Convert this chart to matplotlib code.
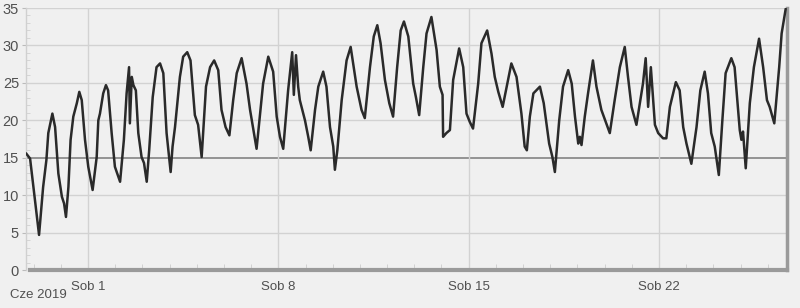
import matplotlib
matplotlib.use("Agg")
import matplotlib.pyplot as plt
import numpy as np

# time in days relative to Sat 1 June 2019 00:00, temperature in °C
days = [-2.28, -2.13, -1.80, -1.65, -1.53, -1.46, -1.31, -1.21, -1.09, -0.96, -0.88, -0.81,
        -0.72, -0.64, -0.54, -0.41, -0.32, -0.23, -0.11, 0.01, 0.17, 0.32, 0.38, 0.44, 0.56,
        0.66, 0.74, 0.87, 0.99, 1.18, 1.32, 1.42, 1.51, 1.54, 1.61, 1.67, 1.76, 1.85, 1.97,
        2.06, 2.16, 2.25, 2.38, 2.52, 2.65, 2.77, 2.89, 3.04, 3.11, 3.20, 3.38, 3.50, 3.65,
        3.77, 3.93, 4.05, 4.18, 4.34, 4.49, 4.64, 4.79, 4.91, 5.06, 5.20, 5.34, 5.47, 5.65,
        5.83, 5.96, 6.20, 6.44, 6.63, 6.81, 6.94, 7.06, 7.18, 7.36, 7.51, 7.57, 7.65, 7.73,
        7.79, 7.98, 8.10, 8.19, 8.35, 8.47, 8.65, 8.77, 8.90, 9.02, 9.08, 9.17, 9.33, 9.51,
        9.66, 9.88, 10.06, 10.18, 10.37, 10.51, 10.64, 10.76, 10.92, 11.08, 11.22, 11.37,
        11.50, 11.62, 11.78, 11.96, 12.06, 12.18, 12.33, 12.45, 12.63, 12.82, 12.94, 13.04,
        13.06, 13.18, 13.31, 13.43, 13.65, 13.80, 13.92, 14.04, 14.16, 14.35, 14.47, 14.68,
        14.84, 14.96, 15.09, 15.25, 15.40, 15.57, 15.76, 15.94, 16.06, 16.14, 16.25, 16.38,
        16.62, 16.76, 16.96, 17.08, 17.17, 17.33, 17.47, 17.66, 17.79, 17.91, 18.03, 18.09,
        18.15, 18.27, 18.39, 18.57, 18.70, 18.88, 19.19, 19.37, 19.56, 19.74, 19.86, 19.99,
        20.17, 20.41, 20.51, 20.60, 20.70, 20.78, 20.85, 20.97, 21.15, 21.27, 21.40, 21.62,
        21.76, 21.89, 22.01, 22.19, 22.38, 22.52, 22.68, 22.80, 22.92, 23.05, 23.20, 23.33,
        23.45, 23.66, 23.78, 23.97, 24.03, 24.09, 24.19, 24.34, 24.49, 24.68, 24.83, 24.97,
        25.07, 25.24, 25.42, 25.51, 25.66]
temps = [15.6, 14.9, 4.7, 11.1, 14.7, 18.3, 20.9, 19.1, 12.9, 9.8, 8.9, 7.1,
         11.1, 17.4, 20.5, 22.3, 23.8, 22.7, 17.4, 13.8, 10.7, 15.1, 20.0, 20.9, 23.6,
         24.7, 24.0, 18.3, 13.8, 11.8, 17.4, 23.6, 27.1, 19.6, 25.8, 24.7, 24.0, 18.3, 15.1,
         14.3, 11.8, 16.0, 23.1, 27.1, 27.6, 26.3, 18.3, 13.1, 16.5, 19.1, 25.8, 28.5, 29.1,
         28.0, 20.7, 19.4, 15.1, 24.5, 27.1, 28.0, 26.7, 21.4, 19.1, 18.0, 22.7, 26.3, 28.3,
         24.9, 21.4, 16.2, 24.9, 28.5, 26.5, 20.5, 17.8, 16.2, 24.0, 29.1, 23.4, 28.7, 24.5,
         22.7, 20.0, 17.8, 16.0, 21.4, 24.5, 26.5, 24.5, 19.1, 16.5, 13.4, 16.0, 22.7, 28.0,
         29.8, 24.5, 21.4, 20.3, 27.1, 31.2, 32.7, 30.3, 25.4, 22.3, 20.5, 27.1,
         32.0, 33.2, 31.2, 24.9, 23.1, 20.7, 27.1, 31.6, 33.8, 29.4, 24.5, 23.4,
         17.8, 18.3, 18.7, 25.4, 29.6, 27.1, 20.9, 19.8, 18.9, 24.9, 30.3, 32.0,
         28.9, 25.8, 23.8, 21.8, 24.5, 27.6, 25.8, 20.9, 16.5, 16.0, 20.5, 23.6,
         24.5, 22.3, 16.9, 15.1, 13.1, 20.0, 24.5, 26.7, 24.9, 20.5, 16.9, 17.8,
         16.7, 20.5, 23.6, 28.0, 24.5, 21.4, 18.3, 22.7, 27.1, 29.8, 25.8, 21.8,
         19.4, 24.9, 28.3, 21.8, 27.1, 23.1, 19.4, 18.3, 17.6, 17.6, 21.8, 25.1,
         24.0, 19.1, 16.9, 14.2, 19.1, 24.0, 26.5, 23.6, 18.3, 16.5, 12.7, 20.0,
         26.3, 28.3, 27.1, 18.7, 17.4, 18.5, 13.6, 22.3, 27.1, 30.9, 27.1, 22.7,
         21.8, 19.6, 27.1, 31.6, 34.9]

xtick_pos = [0, 7, 14, 21]
xtick_labels = ["Sob 1", "Sob 8", "Sob 15", "Sob 22"]
month_label = "Cze 2019"
yticks = [0, 5, 10, 15, 20, 25, 30, 35]

FAM = ['Liberation Sans', 'DejaVu Sans']
plt.rcParams['font.family'] = FAM

bg = "#f0f0f0"
fig = plt.figure(figsize=(8, 3.08), dpi=100, facecolor=bg)
ax = fig.add_axes([0.0325, 0.123, 0.951, 0.851], facecolor=bg)

ax.set_xlim(-2.28, 25.7)
ax.set_ylim(0, 35)

for y in yticks[1:]:
    if y == 15:
        ax.axhline(y, color="#8c8c8c", lw=1.3, zorder=1)
    else:
        ax.axhline(y, color="#d2d2d2", lw=1.0, zorder=1)
for x in xtick_pos:
    ax.axvline(x, color="#d2d2d2", lw=1.0, zorder=1)

ax.plot(days, temps, color="#2a2a2a", lw=1.8, zorder=3,
        solid_joinstyle="round", solid_capstyle="round")

ax.set_yticks(yticks)
ax.set_yticklabels([str(v) for v in yticks], fontsize=10.5, color="#505050", family=FAM)
ax.set_yticks(np.arange(0, 36, 1), minor=True)
ax.tick_params(axis="y", which="major", length=3, color="#bbbbbb", pad=2)
ax.tick_params(axis="y", which="minor", length=3, color="#d0d0d0", direction="in")

ax.set_xticks(xtick_pos)
ax.set_xticklabels(xtick_labels, fontsize=9.5, color="#505050", family=FAM)
ax.set_xticks(np.arange(-2, 26, 1), minor=True)
ax.tick_params(axis="x", which="major", length=0, pad=8)
ax.tick_params(axis="x", which="minor", length=4, color="#cccccc", direction="in")

ax.spines["top"].set_visible(False)
ax.spines["left"].set_color("#d0d0d0")
ax.spines["left"].set_linewidth(1.0)
ax.spines["bottom"].set_color("#9a9a9a")
ax.spines["bottom"].set_linewidth(3.0)
ax.spines["bottom"].set_bounds(-2.13, 25.7)
ax.spines["right"].set_color("#9a9a9a")
ax.spines["right"].set_linewidth(2.5)

fig.text(0.013, 0.022, month_label, fontsize=9.5, color="#505050",
         family=FAM, ha="left", va="bottom")

fig.savefig("out.png", dpi=100, facecolor=bg)
